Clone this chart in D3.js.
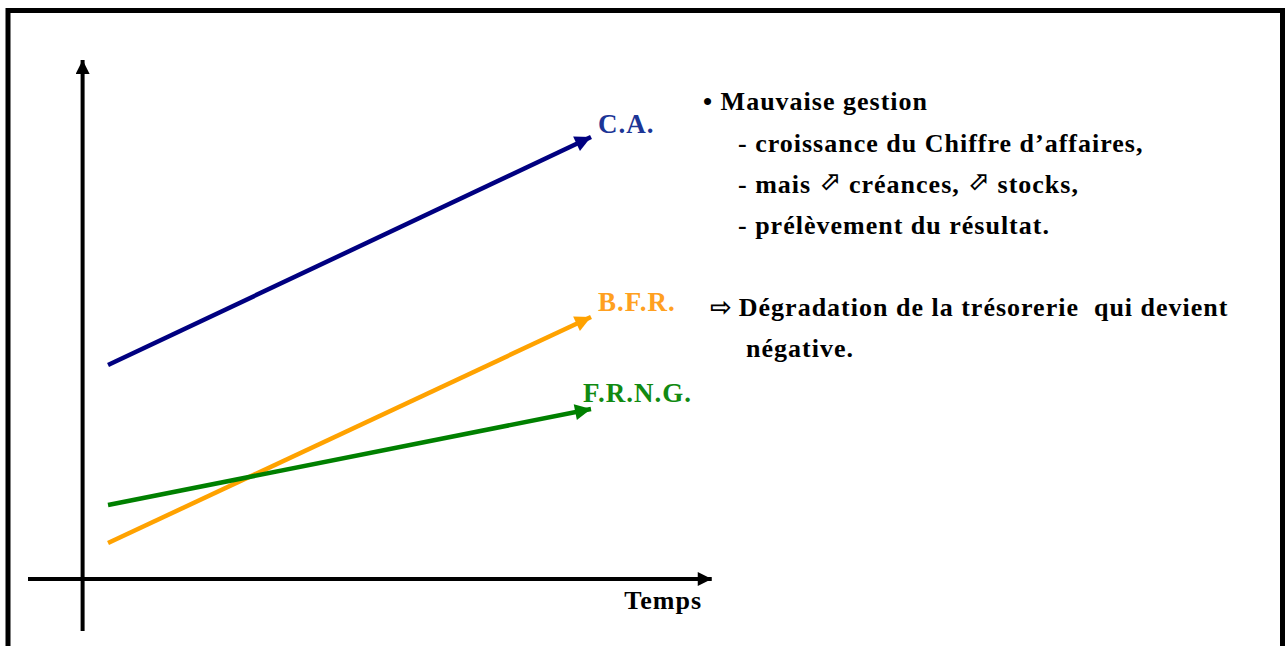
<!DOCTYPE html>
<html><head><meta charset="utf-8">
<script src="https://cdn.jsdelivr.net/npm/d3@7/dist/d3.min.js"></script>
<style>html,body{margin:0;padding:0;background:#fff;overflow:hidden}</style>
</head><body>
<svg id="c" width="1285" height="646"></svg>
<script>
// ---- data ----
const seriesNames = ["C.A.", "B.F.R.", "F.R.N.G."];
const timePoints = [1, 20];
const caValues = [21.4, 44.2];
const bfrValues = [3.6, 26.2];
const frngValues = [7.4, 17.0];
const xAxisLabel = "Temps";
const bulletTitle = "• Mauvaise gestion";
const bulletItems = ["- croissance du Chiffre d\u2019affaires,", "- mais \u2B00 créances, \u2B00 stocks,", "- prélèvement du résultat."];
const conclusionLines = ["\u21E8 Dégradation de la trésorerie  qui devient", "négative."];

const series = [
  {name: seriesNames[0], values: caValues, color: "#000080", label: "#1c3596"},
  {name: seriesNames[1], values: bfrValues, color: "#ffa200", label: "#ffa020"},
  {name: seriesNames[2], values: frngValues, color: "#008000", label: "#118a11"}
];

const svg = d3.select("#c");
const x = d3.scaleLinear().domain([0, 25]).range([82.6, 718.1]);
const y = d3.scaleLinear().domain([0, 52]).range([579, 59]);

const defs = svg.append("defs");
function marker(id, color, w, h) {
  defs.append("marker").attr("id", id).attr("viewBox", "0 0 10 10")
    .attr("refX", 10).attr("refY", 5).attr("markerUnits", "userSpaceOnUse")
    .attr("markerWidth", w).attr("markerHeight", h).attr("orient", "auto")
    .append("path").attr("d", "M0,0 L10,5 L0,10 Z").attr("fill", color);
}
marker("mk-axis", "#000", 16, 14);
series.forEach((s, i) => marker("mk-" + i, s.color, 21, 16));

// frame
svg.append("path").attr("d", "M8,646 L8,10.5 L1282.5,10.5 L1282.5,646")
  .attr("fill", "none").attr("stroke", "#000").attr("stroke-width", 5);

// axes
svg.append("line").attr("x1", x(0)).attr("x2", x(0)).attr("y1", 631).attr("y2", y(51.9))
  .attr("stroke", "#000").attr("stroke-width", 4).attr("marker-end", "url(#mk-axis)");
svg.append("line").attr("x1", 28).attr("x2", x(24.75)).attr("y1", y(0)).attr("y2", y(0))
  .attr("stroke", "#000").attr("stroke-width", 4).attr("marker-end", "url(#mk-axis)");

const serif = "'Liberation Serif','Times New Roman',serif";
svg.append("text").attr("x", 702).attr("y", 609).attr("text-anchor", "end")
  .attr("font-family", serif).attr("font-weight", "bold").attr("font-size", 26)
  .attr("letter-spacing", 1).text(xAxisLabel);

// series lines
const line = d3.line().x(d => x(d[0])).y(d => y(d[1]));
series.forEach((s, i) => {
  svg.append("path").datum(timePoints.map((t, j) => [t, s.values[j]]))
    .attr("d", line).attr("fill", "none").attr("stroke", s.color)
    .attr("stroke-width", 4.5).attr("marker-end", "url(#mk-" + i + ")");
});

// series labels
const labelPos = [[598, 133], [598, 311], [583, 402]];
series.forEach((s, i) => {
  svg.append("text").attr("x", labelPos[i][0]).attr("y", labelPos[i][1])
    .attr("font-family", serif).attr("font-weight", "bold").attr("font-size", 27)
    .attr("letter-spacing", 1).attr("fill", s.label).text(s.name);
});

// right-side text
const tg = svg.append("g").attr("font-family", serif).attr("font-weight", "bold")
  .attr("font-size", 26).attr("letter-spacing", 1).attr("fill", "#000");
tg.append("text").attr("x", 703).attr("y", 110).text(bulletTitle);
bulletItems.forEach((t, i) => {
  const parts = t.split("\u2B00");
  const tx = tg.append("text").attr("x", 738).attr("y", 152 + i * 41).attr("xml:space", "preserve");
  parts.forEach((p, k) => {
    tx.append("tspan").attr("dy", k > 0 ? 3 : 0).text(p);
    if (k < parts.length - 1) {
      tx.append("tspan").attr("font-family", "'DejaVu Sans'").attr("font-weight", "bold")
        .attr("font-size", 26).attr("letter-spacing", 1).attr("dy", -3).text("\u2B00");
    }
  });
});
const c0 = tg.append("text").attr("x", 710).attr("y", 316).attr("xml:space", "preserve");
c0.append("tspan").attr("font-family", "'DejaVu Sans'").attr("font-weight", "bold")
  .attr("font-size", 26).attr("letter-spacing", 0).text("\u21E8");
c0.append("tspan").attr("dx", 7).text(conclusionLines[0].slice(2));
tg.append("text").attr("x", 746).attr("y", 357).text(conclusionLines[1]);
</script>
</body></html>
